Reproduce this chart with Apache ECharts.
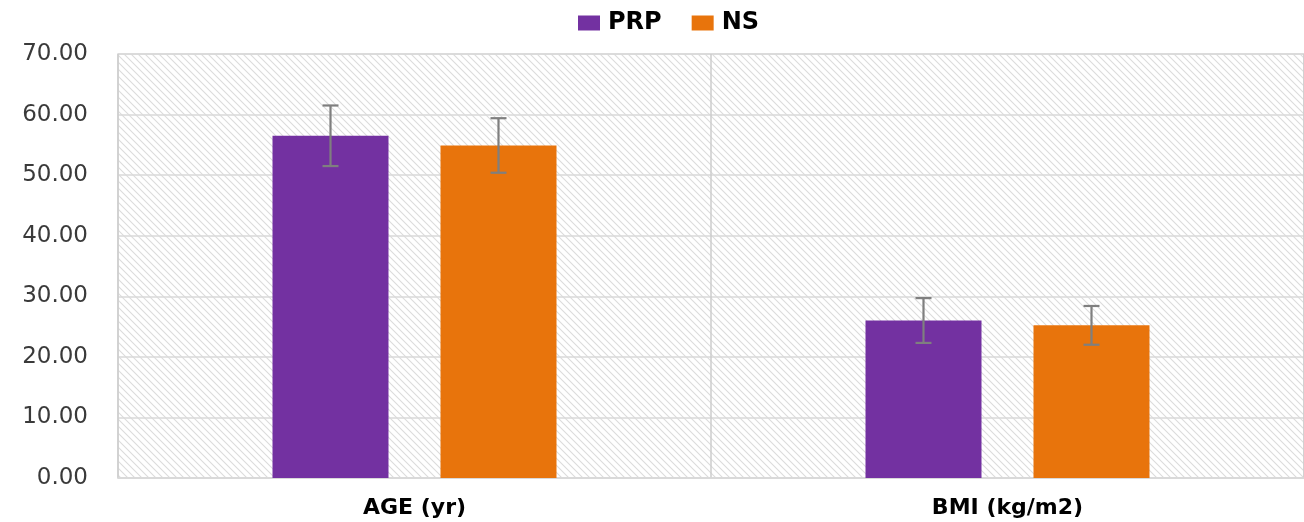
<!DOCTYPE html>
<html>
<head>
<meta charset="utf-8">
<script src="https://cdn.jsdelivr.net/npm/echarts@6/dist/echarts.min.js"></script>
<style>
html,body{margin:0;padding:0;background:#fff;}
#chart{width:1304px;height:522px;}
</style>
</head>
<body>
<div id="chart"></div>
<script>
const categories = ['AGE (yr)', 'BMI (kg/m2)'];
const seriesNames = ['PRP', 'NS'];
const prpMean = [56.5, 26.0];
const prpSD = [5.0, 3.7];
const nsMean = [54.9, 25.2];
const nsSD = [4.5, 3.2];
const yTicks = [0, 10, 20, 30, 40, 50, 60, 70];

const colors = ['#7331A1', '#E8740C'];

// hatch pattern
const pc = document.createElement('canvas');
pc.width = 7; pc.height = 7;
const pctx = pc.getContext('2d');
pctx.fillStyle = '#ffffff';
pctx.fillRect(0, 0, 7, 7);
pctx.strokeStyle = '#dcdcdc';
pctx.lineWidth = 1.1;
pctx.beginPath();
pctx.moveTo(-1, -1); pctx.lineTo(8, 8);
pctx.moveTo(-1, 6); pctx.lineTo(1, 8);
pctx.moveTo(6, -1); pctx.lineTo(8, 1);
pctx.stroke();

const chart = echarts.init(document.getElementById('chart'), null, {renderer: 'canvas'});

const barWidth = 116, barGapPx = 52;
function errSeries(idx, means, sds) {
  const off = (idx === 0 ? -1 : 1) * (barWidth + barGapPx) / 2;
  return {
    type: 'custom',
    name: seriesNames[idx] + ' err',
    z: 10,
    silent: true,
    data: means.map((m, i) => [i, m - sds[i], m + sds[i]]),
    encode: {x: 0, y: [1, 2]},
    renderItem: function (params, api) {
      const lo = api.coord([api.value(0), api.value(1)]);
      const hi = api.coord([api.value(0), api.value(2)]);
      const x = lo[0] + off;
      const cap = 8;
      const style = {stroke: '#7f7f7f', lineWidth: 2.2, fill: null};
      return {
        type: 'group',
        children: [
          {type: 'line', shape: {x1: x, y1: lo[1], x2: x, y2: hi[1]}, style: style},
          {type: 'line', shape: {x1: x - cap, y1: lo[1], x2: x + cap, y2: lo[1]}, style: style},
          {type: 'line', shape: {x1: x - cap, y1: hi[1], x2: x + cap, y2: hi[1]}, style: style}
        ]
      };
    }
  };
}

chart.setOption({
  animation: false,
  color: colors,
  legend: {
    data: seriesNames,
    top: 6,
    left: 573,
    itemWidth: 22,
    itemHeight: 15,
    itemGap: 30,
    icon: 'rect',
    textStyle: {fontFamily: 'DejaVu Sans', fontWeight: 'bold', fontSize: 24, color: '#000', padding: [0, 0, 0, 3]}
  },
  grid: {
    left: 118, right: 0, top: 54, bottom: 44,
    show: true,
    backgroundColor: {image: pc, repeat: 'repeat'},
    borderColor: '#d9d9d9',
    borderWidth: 1.5
  },
  xAxis: {
    type: 'category',
    data: categories,
    axisLine: {show: true, lineStyle: {color: '#d9d9d9', width: 1.5}},
    axisTick: {show: false},
    splitLine: {show: true, lineStyle: {color: '#cccccc', width: 1.5}},
    axisLabel: {fontFamily: 'DejaVu Sans', fontWeight: 'bold', fontSize: 22, color: '#000', margin: 19}
  },
  yAxis: {
    type: 'value',
    min: yTicks[0],
    max: yTicks[yTicks.length - 1],
    interval: 10,
    axisLine: {show: false},
    axisTick: {show: false},
    splitLine: {show: true, lineStyle: {color: '#d9d9d9', width: 1.5}},
    axisLabel: {
      fontFamily: 'DejaVu Sans', fontSize: 23, color: '#3a3a3a', margin: 30,
      formatter: v => v.toFixed(2)
    }
  },
  series: [
    {type: 'bar', name: seriesNames[0], data: prpMean, barWidth: barWidth, barGap: (barGapPx / barWidth * 100) + '%', itemStyle: {color: colors[0]}},
    {type: 'bar', name: seriesNames[1], data: nsMean, barWidth: barWidth, barGap: (barGapPx / barWidth * 100) + '%', itemStyle: {color: colors[1]}},
    errSeries(0, prpMean, prpSD),
    errSeries(1, nsMean, nsSD)
  ]
});
</script>
</body>
</html>
